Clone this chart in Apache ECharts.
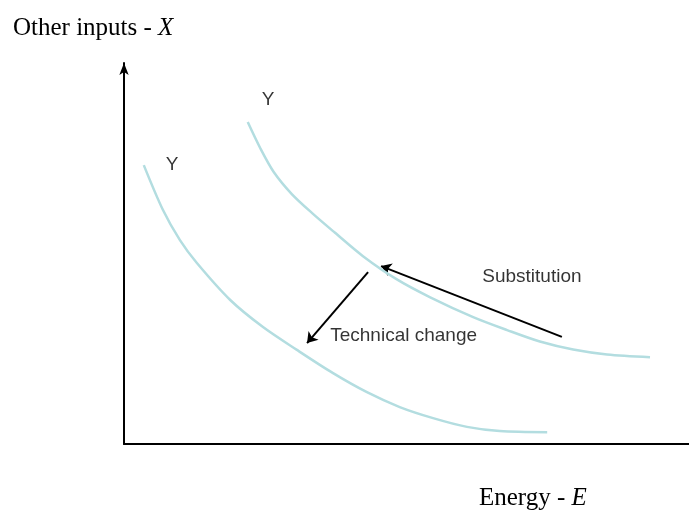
<!DOCTYPE html>
<html>
<head>
<meta charset="utf-8">
<script src="https://cdn.jsdelivr.net/npm/echarts@6/dist/echarts.min.js"></script>
<style>
  html, body { margin: 0; padding: 0; background: #fff; }
  #chart { width: 689px; height: 510px; }
</style>
</head>
<body>
<div id="chart"></div>
<script>
// isoquant curves (E on x, X on y)
var lowerCurve = [
  [0.35, 7.32], [0.69, 6.14], [0.99, 5.35], [1.29, 4.75], [1.88, 3.78],
  [2.46, 3.07], [3.06, 2.47], [3.70, 1.86], [4.30, 1.36], [4.88, 0.97],
  [5.47, 0.68], [6.07, 0.45], [6.65, 0.34], [7.49, 0.31]
];
var upperCurve = [
  [2.19, 8.45], [2.41, 7.77], [2.65, 7.14], [2.97, 6.56], [3.33, 6.06],
  [3.73, 5.55], [4.23, 4.93], [4.83, 4.32], [5.42, 3.85], [6.18, 3.33],
  [6.78, 2.99], [7.36, 2.69], [7.95, 2.48], [8.55, 2.35], [9.31, 2.28]
];
// arrows: [from, to]
var substitutionArrow = [[7.75, 2.81], [4.55, 4.67]];
var techChangeArrow = [[4.32, 4.51], [3.24, 2.65]];

var curveLabels = [
  { value: [2.55, 9.03], text: 'Y' },
  { value: [0.85, 7.32], text: 'Y' }
];

var chart = echarts.init(document.getElementById('chart'));

var sans = 'Liberation Sans';
var serif = 'Liberation Serif';

var serifRich = {
  n: { fontFamily: serif, fontSize: 25, fontWeight: 'normal', color: '#000' },
  i: { fontFamily: serif, fontSize: 25, fontWeight: 'normal', fontStyle: 'italic', color: '#000' }
};

var option = {
  animation: false,
  title: [
    {
      text: '{n|Other inputs - }{i|X}',
      left: 8, top: 11,
      textStyle: { fontWeight: 'normal', rich: serifRich }
    },
    {
      text: '{n|Energy - }{i|E}',
      left: 474, top: 481,
      textStyle: { fontWeight: 'normal', rich: serifRich }
    }
  ],
  grid: { left: 124, right: 0, top: 63, bottom: 66 },
  xAxis: {
    type: 'value', min: 0, max: 10,
    axisLine: { show: true, onZero: false, lineStyle: { color: '#000', width: 2 } },
    axisTick: { show: false }, axisLabel: { show: false }, splitLine: { show: false }
  },
  yAxis: {
    type: 'value', min: 0, max: 10,
    axisLine: {
      show: true, onZero: false,
      symbol: ['none', 'arrow'], symbolSize: [7, 12],
      lineStyle: { color: '#000', width: 2 }
    },
    axisTick: { show: false }, axisLabel: { show: false }, splitLine: { show: false }
  },
  series: [
    {
      type: 'line', data: lowerCurve, smooth: 0.3, symbol: 'none',
      lineStyle: { color: '#b3dde0', width: 2.5 }
    },
    {
      type: 'line', data: upperCurve, smooth: 0.3, symbol: 'none',
      lineStyle: { color: '#b3dde0', width: 2.5 }
    },
    {
      type: 'lines', coordinateSystem: 'cartesian2d',
      symbol: ['none', 'arrow'], symbolSize: 10,
      lineStyle: { color: '#000', width: 2, opacity: 1 },
      data: [
        { coords: substitutionArrow },
        { coords: techChangeArrow }
      ]
    },
    {
      type: 'scatter', symbolSize: 0,
      data: curveLabels.map(function (d) { return { value: d.value, name: d.text }; }),
      label: {
        show: true, position: 'inside', formatter: '{b}',
        fontFamily: sans, fontSize: 19, color: '#000'
      }
    },
    {
      type: 'scatter', symbolSize: 0,
      data: [
        { value: [7.22, 4.38], name: 'Substitution', label: { align: 'center' } },
        { value: [3.65, 2.83], name: 'Technical change', label: { align: 'left' } }
      ],
      label: {
        show: true, position: 'inside', formatter: '{b}',
        fontFamily: sans, fontSize: 19, color: '#000'
      }
    }
  ]
};

chart.setOption(option);
</script>
</body>
</html>
